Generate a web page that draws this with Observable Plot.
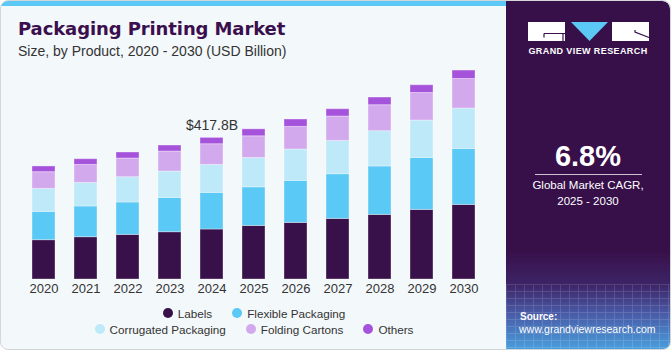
<!DOCTYPE html>
<html>
<head>
<meta charset="utf-8">
<script src="https://cdn.jsdelivr.net/npm/d3@7"></script>
<script src="https://cdn.jsdelivr.net/npm/@observablehq/plot@0.6"></script>
<style>
  body { margin: 0; background: #ffffff; }
  #frame { position: absolute; left: 0; top: 0; width: 669px; height: 348px; border: 1px solid #d3d7da; border-radius: 8px; background: #f3f8fb; overflow: hidden; font-family: "Liberation Sans", Arial, sans-serif; }
  #stripe { position: absolute; left: 0; top: 0; width: 506px; height: 5px; background: #5bc8f5; }
  #title { position: absolute; left: 17px; top: 19px; font-family: "DejaVu Sans", sans-serif; font-weight: bold; font-size: 18px; line-height: 18px; letter-spacing: -0.1px; color: #3b0f4e; white-space: nowrap; }
  #subtitle { position: absolute; left: 17px; top: 42.5px; font-size: 14px; line-height: 14px; color: #333; white-space: nowrap; }
  #chart { position: absolute; left: 0; top: 60px; }
  #legend { position: absolute; left: 0; top: 304px; width: 506px; font-size: 11.7px; color: #333; }
  .row { display: flex; justify-content: center; height: 16px; align-items: center; }
  .item { display: flex; align-items: center; margin: 0 10px; white-space: nowrap; }
  .dot { width: 10px; height: 10px; border-radius: 50%; margin-right: 5px; }
  #panel { position: absolute; left: 505px; top: 0; width: 164px; height: 348px; border-top-right-radius: 8px; overflow: hidden;
    background: linear-gradient(to bottom, #37104a 0px, #37104a 250px, #3d2466 283px, #4a5aa6 312px, #4a9edc 348px); }
  #grid { position: absolute; left: 0; top: 283px; width: 164px; height: 65px; opacity: 0.14;
    background-image: repeating-linear-gradient(to right, rgba(255,255,255,0.9) 0px, rgba(255,255,255,0.9) 1px, transparent 1px, transparent 9px),
                      repeating-linear-gradient(to bottom, rgba(255,255,255,0.9) 0px, rgba(255,255,255,0.9) 1px, transparent 1px, transparent 7px); }
  .ptxt { position: absolute; left: 0; width: 164px; text-align: center; color: #fff; white-space: nowrap; }
</style>
</head>
<body>
<div id="frame">
  <div id="stripe"></div>
  <div id="title">Packaging Printing Market</div>
  <div id="subtitle">Size, by Product, 2020 - 2030 (USD Billion)</div>
  <div id="chart"></div>
  <div id="legend"></div>
  <div id="panel">
    <svg width="164" height="60" style="position:absolute;left:0;top:0">
      <rect x="22" y="21" width="37" height="19" fill="#fff"/>
      <path d="M38,32.5 H59 M38,32.5 V36.5 M57,32.5 V40" stroke="#37104a" stroke-width="1.2" fill="none"/>
      <polygon points="65,21 102,21 83.5,40" fill="#5bc8f5"/>
      <rect x="106" y="21" width="37" height="19" fill="#fff"/>
      <path d="M129,29 V31 L143,36.5" stroke="#37104a" stroke-width="1.2" fill="none"/>
    </svg>
    <div class="ptxt" style="top:45.9px;font-size:9px;line-height:9px;font-weight:bold;letter-spacing:0.4px;">GRAND VIEW RESEARCH</div>
    <div class="ptxt" style="top:141.2px;font-size:29px;line-height:29px;font-weight:bold;">6.8%</div>
    <div style="position:absolute;left:29px;top:173px;width:107px;height:1px;background:rgba(255,255,255,0.75);"></div>
    <div class="ptxt" style="top:177.1px;font-size:11.5px;line-height:15.5px;">Global Market CAGR,<br>2025 - 2030</div>
    <div id="grid"></div>
    <div style="position:absolute;left:14px;top:311px;font-size:10px;line-height:10px;font-weight:bold;color:#fff;">Source:</div>
    <div style="position:absolute;left:13px;top:322.6px;font-size:10.5px;line-height:10.5px;color:#fff;white-space:nowrap;">www.grandviewresearch.com</div>
  </div>
</div>
<script>
const years = ["2020", "2021", "2022", "2023", "2024", "2025", "2026", "2027", "2028", "2029", "2030"];
const productNames = ["Labels", "Flexible Packaging", "Corrugated Packaging", "Folding Cartons", "Others"];
const productColors = ["#38104a", "#5bc9f5", "#bde9f9", "#d3a9ee", "#a653db"];
const labels = [116, 124.8, 131.6, 139.5, 147.5, 158, 167, 178.8, 190.6, 205.3, 220];
const flexiblePackaging = [83.5, 90.6, 95.6, 101.2, 108, 114, 124, 131.9, 142.8, 153.4, 165.2];
const corrugatedPackaging = [67.9, 69.6, 74.6, 77.9, 82.6, 86.5, 92.6, 98.2, 104.1, 110.3, 119.2];
const foldingCartons = [49.3, 53.1, 55.2, 59, 61, 64, 66.7, 72, 76.7, 81.4, 87.3];
const others = [16.8, 16.8, 17.7, 17.7, 18.7, 20.6, 21.8, 21.5, 22.7, 22.7, 24.8];
const annotationYear = "2024";
const annotationText = "$417.8B";

const seriesValues = [labels, flexiblePackaging, corrugatedPackaging, foldingCartons, others];
const data = years.flatMap((year, i) => productNames.map((name, k) => ({year, product: name, value: seriesValues[k][i]})));
const ai = years.indexOf(annotationYear);
const annotation = [{year: annotationYear, value: d3.sum(seriesValues, s => s[ai]), text: annotationText}];

const chart = Plot.plot({
  width: 506,
  height: 240,
  marginTop: 0,
  marginBottom: 22,
  marginLeft: 12,
  marginRight: 12,
  style: {background: "transparent", fontFamily: "'Liberation Sans', Arial, sans-serif", fontSize: "13px", color: "#333"},
  x: {type: "band", domain: years, padding: 0.45, label: null, tickSize: 0, tickPadding: 4},
  y: {domain: [0, 643.2], axis: null},
  color: {domain: productNames, range: productColors},
  marks: [
    Plot.barY(data, {x: "year", y: "value", fill: "product", stroke: "#ffffff", strokeOpacity: 0.35, strokeWidth: 1}),
    Plot.text(annotation, {x: "year", y: "value", text: "text", dy: -8, lineAnchor: "bottom", fontSize: 14, fill: "#333"})
  ]
});
document.getElementById("chart").appendChild(chart);

const legend = document.getElementById("legend");
[[0, 1], [2, 3, 4]].forEach(idxs => {
  const row = document.createElement("div");
  row.className = "row";
  idxs.forEach(k => {
    const item = document.createElement("div");
    item.className = "item";
    const dot = document.createElement("span");
    dot.className = "dot";
    dot.style.background = productColors[k];
    const t = document.createElement("span");
    t.textContent = productNames[k];
    item.appendChild(dot);
    item.appendChild(t);
    row.appendChild(item);
  });
  legend.appendChild(row);
});
</script>
</body>
</html>
